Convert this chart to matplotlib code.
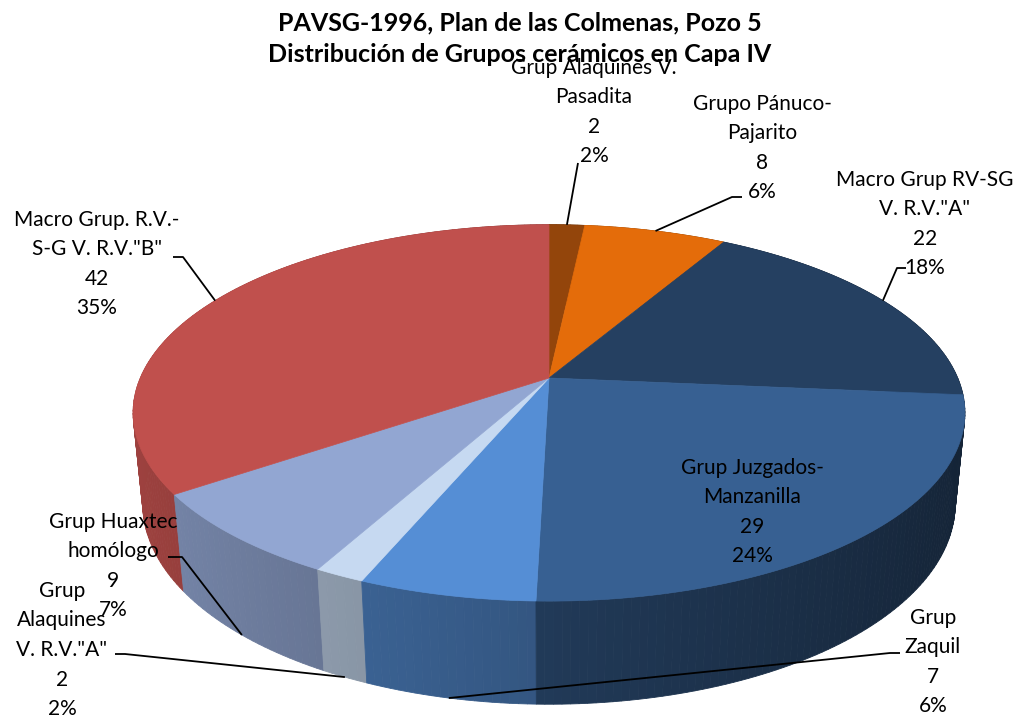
"""3-D pie of ceramic groups, PAVSG-1996, Plan de las Colmenas, Pozo 5, Capa IV.

The pie is drawn by hand: every slice is projected from a flat disk seen
in perspective, sides first (far to near) and tops last, so it keeps the
look of an office-style 3-D pie.
"""

import numpy as np
import matplotlib.pyplot as plt
from matplotlib.patches import Polygon

plt.rcParams["font.family"] = ["Lato", "DejaVu Sans"]

# slices, clockwise from 12 o'clock
groups = [
    "Grup Alaquines V.\nPasadita",
    "Grupo Pánuco-\nPajarito",
    "Macro Grup RV-SG\nV. R.V.\"A\"",
    "Grup Juzgados-\nManzanilla",
    "Grup\nZaquil",
    "Grup\nAlaquines\nV. R.V.\"A\"",
    "Grup Huaxtec\nhomólogo",
    "Macro Grup. R.V.-\nS-G V. R.V.\"B\"",
]
counts = [2, 8, 22, 29, 7, 2, 9, 42]
percents = [2, 6, 18, 24, 6, 2, 7, 35]

colors = ["#93450B", "#E46C0A", "#254061", "#376092",
          "#558ED5", "#C6D9F1", "#92A6D2", "#C0504D"]

# label block centres (px) and the text-side end of each leader line
label_xy = [(594, 112), (762, 148), (925, 224), (752, 512),
            (933, 662), (62, 650), (113, 566), (97, 264)]
leader_from = [[(578, 163)], [(742, 197), (732, 197)], [(906, 268), (897, 268)], None,
               [(900, 653), (890, 653)], [(115, 654), (125, 654)],
               [(168, 557), (182, 557)], [(173, 257), (183, 257)]]

# camera / disk geometry
CX, CY = 549, 378
ELEV = np.radians(26.4)
DIST = 4.83
FOCAL = 1974
DEPTH = 0.25


def project(t, z):
    """Screen (px) position of the rim point at angle t (rad), height z."""
    x, y = np.cos(t), np.sin(t)
    ce, se = np.cos(ELEV), np.sin(ELEV)
    ry = y + DIST * ce
    rz = z - DIST * se
    zc = ry * ce - rz * se
    yc = ry * se + rz * ce
    return CX + FOCAL * x / zc, CY - FOCAL * yc / zc, zc


def shade(hex_color, t):
    rgb = np.array([int(hex_color[i:i + 2], 16) for i in (1, 3, 5)]) / 255.0
    k = 0.6 - 0.23 * np.cos(t)
    return tuple(np.clip(rgb * k, 0, 1))


def main():
    fig = plt.figure(figsize=(10.26, 7.15), dpi=100)
    ax = fig.add_axes([0, 0, 1, 1])
    ax.set_xlim(0, 1026)
    ax.set_ylim(715, 0)
    ax.axis("off")

    total = sum(counts)
    bounds = np.concatenate([[0], np.cumsum(counts)]) / total * 2 * np.pi
    starts = np.pi / 2 - bounds[:-1]
    ends = np.pi / 2 - bounds[1:]

    # side walls, split into thin strips and painted far to near
    strips = []
    for i, (a0, a1) in enumerate(zip(starts, ends)):
        n = max(int(np.degrees(a0 - a1)), 2)
        ts = np.linspace(a0, a1, n + 1)
        for t0, t1 in zip(ts[:-1], ts[1:]):
            p = [project(t0, 0), project(t1, 0), project(t1, -DEPTH), project(t0, -DEPTH)]
            depth = np.mean([q[2] for q in p])
            col = shade(colors[i], (t0 + t1) / 2)
            strips.append((depth, [(q[0], q[1]) for q in p], col))
    for depth, pts, col in sorted(strips, key=lambda s: -s[0]):
        ax.add_patch(Polygon(pts, closed=True, facecolor=col, edgecolor=col, lw=0.6))

    # top faces
    for i, (a0, a1) in enumerate(zip(starts, ends)):
        ts = np.linspace(a0, a1, 200)
        rim = [project(t, 0)[:2] for t in ts]
        ax.add_patch(Polygon([(CX, CY)] + rim, closed=True,
                             facecolor=colors[i], edgecolor=colors[i], lw=0.5))

    # leader lines: back slices to the top rim, front slices to the bottom rim
    for i, (a0, a1) in enumerate(zip(starts, ends)):
        if leader_from[i] is None:
            continue
        mid = (a0 + a1) / 2
        z = 0 if np.sin(mid) > 0 else -DEPTH
        ex, ey, _ = project(mid, z)
        pts = leader_from[i] + [(ex, ey)]
        ax.plot([p[0] for p in pts], [p[1] for p in pts], color="black", lw=1.3,
                solid_capstyle="butt")

    for i, (x, y) in enumerate(label_xy):
        ax.text(x, y, f"{groups[i]}\n{counts[i]}\n{percents[i]}%", ha="center", va="center",
                multialignment="center", fontsize=15, linespacing=1.6, color="black")

    ax.text(520, 39, "PAVSG-1996, Plan de las Colmenas, Pozo 5\n"
            "Distribución de Grupos cerámicos en Capa IV",
            ha="center", va="center", fontsize=18, fontweight="bold",
            linespacing=1.45, color="black")

    fig.savefig("out.png", dpi=100)


if __name__ == "__main__":
    main()
